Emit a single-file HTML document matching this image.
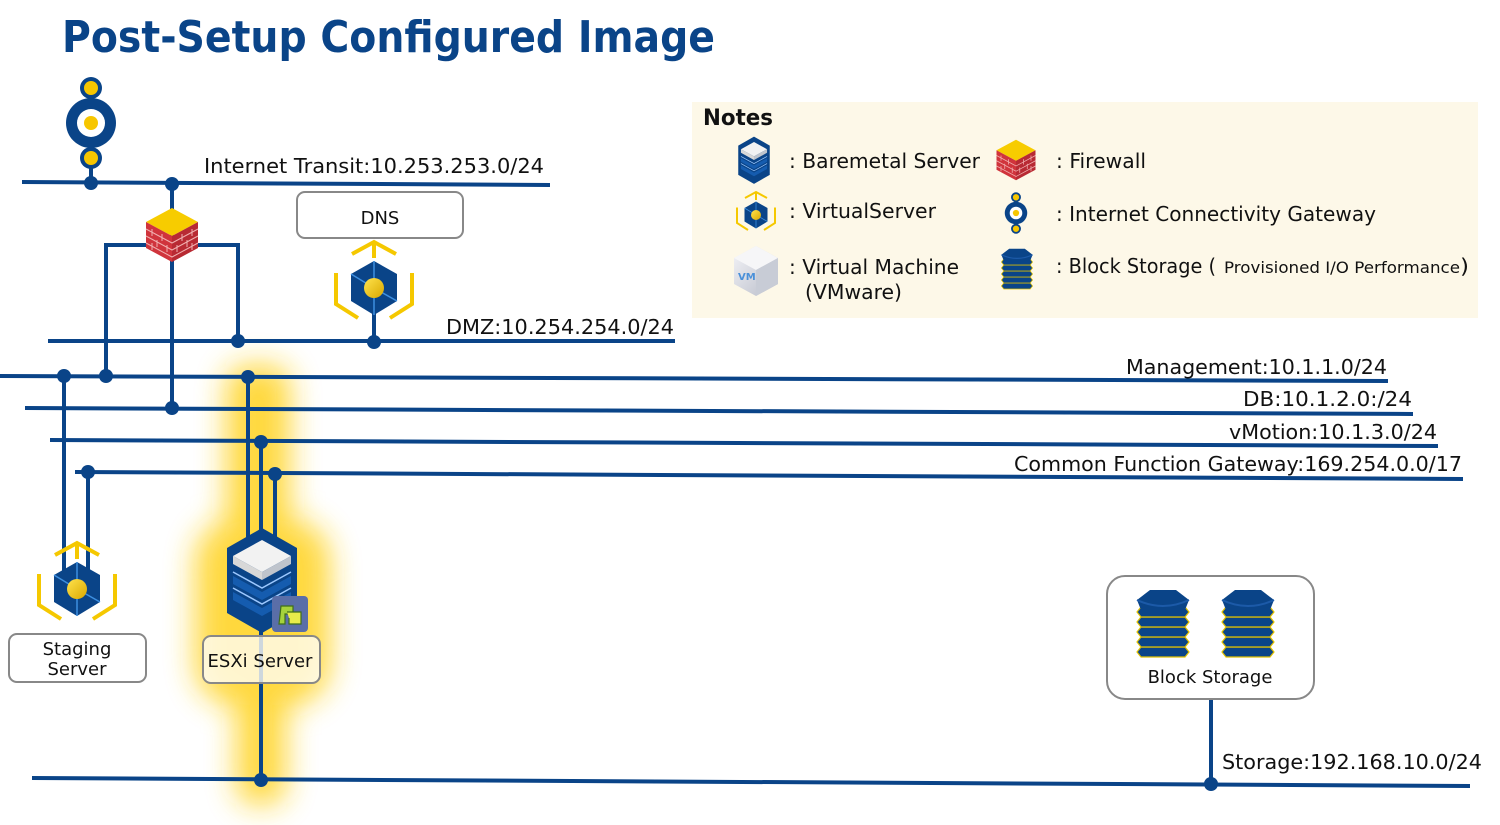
<!DOCTYPE html>
<html><head><meta charset="utf-8"><style>
html,body{margin:0;padding:0;background:#fff;}
svg{display:block;}
text{font-family:"DejaVu Sans","Liberation Sans",sans-serif;fill:#111;}
</style></head><body>
<svg width="1500" height="825" viewBox="0 0 1500 825" xmlns="http://www.w3.org/2000/svg">
<defs>
  <filter id="blur" x="-100%" y="-20%" width="300%" height="140%"><feGaussianBlur stdDeviation="15"/></filter>
  <linearGradient id="ball" x1="0" y1="0" x2="1" y2="1"><stop offset="0" stop-color="#ffe34d"/><stop offset="1" stop-color="#d9a800"/></linearGradient>
  <linearGradient id="vmg" x1="0" y1="0" x2="1" y2="1"><stop offset="0" stop-color="#f4f4f8"/><stop offset="1" stop-color="#b8bcc8"/></linearGradient>
  <symbol id="vs" overflow="visible">
    <g fill="none" stroke="#f5c800" stroke-width="4">
      <path d="M0,-30 V-46 M-22,-34 L0,-46 L22,-34"/>
      <path d="M-38,-15 V16 L-16,30"/>
      <path d="M38,-15 V16 L16,30"/>
    </g>
    <polygon points="0,-27 23,-14 23,13 0,27 -23,13 -23,-14" fill="#0a4488"/>
    <path d="M0,-27 V0 M-23,-14 L0,0 L23,13 M0,0 V27" stroke="#3d8fe0" stroke-width="1.5"/>
    <circle r="10" fill="url(#ball)"/>
  </symbol>
  <symbol id="bm" overflow="visible">
    <polygon points="0,-52 35,-32 35,33 0,53 -35,33 -35,-32" fill="#0a4488"/>
    <polygon points="0,-40 29,-24 0,-8 -29,-24" fill="#f2f2f2"/>
    <polygon points="-29,-24 0,-8 0,0 -29,-16" fill="#d8d8d8"/>
    <polygon points="29,-24 0,-8 0,0 29,-16" fill="#bfc4cc"/>
    <path d="M-29,-8 L0,8 L29,-8 M-29,8 L0,24 L29,8" stroke="#9cc8ff" stroke-width="1.5" fill="none"/>
    <path d="M-29,-4 L0,12 L29,-4 L29,4 L0,20 L-29,4Z M-29,12 L0,28 L29,12 L29,20 L0,36 L-29,20Z" fill="#1a66c0" opacity="0.7"/>
  </symbol>
  <symbol id="fw" overflow="visible">
    <polygon points="0,-27 26,-13 0,1 -26,-13" fill="#f7cc00"/>
    <polygon points="-26,-13 0,1 0,27 -26,13" fill="#d0343c"/>
    <polygon points="26,-13 0,1 0,27 26,13" fill="#b82a33"/>
    <g stroke="#f1b0b0" stroke-width="1" fill="none">
      <path d="M-26,-6 L0,8 L26,-6 M-26,1 L0,15 L26,1 M-26,8 L0,22 L26,8"/>
      <path d="M-20,-6 v7 M-10,-1 v7 M-15,5 v7 M-5,10 v7 M-20,8 v7 M20,-6 v7 M10,-1 v7 M15,5 v7 M5,10 v7 M20,8 v7"/>
    </g>
  </symbol>
  <symbol id="icg" overflow="visible">
    <path d="M0,-35 V35" stroke="#0a4488" stroke-width="5"/>
    <circle cy="-35" r="11" fill="#0a4488"/><circle cy="-35" r="7" fill="#f7c600"/>
    <circle cy="35" r="11" fill="#0a4488"/><circle cy="35" r="7" fill="#f7c600"/>
    <circle r="25" fill="#0a4488"/><circle r="14" fill="#fff"/><circle r="7" fill="#f7c600"/>
  </symbol>
  <symbol id="bs" overflow="visible">
    <g stroke="#e0c000" stroke-width="1.2" fill="#0a4488">
      <polygon points="-22,25 22,25 26,30 22,35 -22,35 -26,30"/>
      <polygon points="-22,15 22,15 26,20 22,25 -22,25 -26,20"/>
      <polygon points="-22,5 22,5 26,10 22,15 -22,15 -26,10"/>
      <polygon points="-22,-5 22,-5 26,0 22,5 -22,5 -26,0"/>
      <polygon points="-22,-15 22,-15 26,-10 22,-5 -22,-5 -26,-10"/>
    </g>
    <polygon points="-13,-32 13,-32 26,-22 22,-12 -22,-12 -26,-22" fill="#0a4488"/>
    <path d="M-26,-22 Q0,-10 26,-22" fill="none" stroke="#1c5aa8" stroke-width="2"/>
  </symbol>
</defs>

<text x="62" y="52" font-family="Liberation Sans" font-weight="bold" font-size="44" textLength="653" lengthAdjust="spacingAndGlyphs" style="fill:#0a4488">Post-Setup Configured Image</text>

<rect x="692" y="102" width="786" height="216" fill="#fdf8e8"/>
<text x="703" y="125" font-size="22" font-weight="bold" font-family="Liberation Sans" textLength="70" lengthAdjust="spacingAndGlyphs">Notes</text>
<use href="#bm" transform="translate(754,160) scale(0.45)"/>
<use href="#vs" transform="translate(756,215) scale(0.5)"/>
<g transform="translate(756,270)">
  <polygon points="0,-24 22,-12 22,14 0,26 -22,14 -22,-12" fill="url(#vmg)"/>
  <polygon points="0,-24 22,-12 0,0 -22,-12" fill="#f6f6f8"/>
  <polygon points="0,0 22,-12 22,14 0,26" fill="#c8ccd6"/>
  <text x="-18" y="10" font-size="10" font-weight="bold" font-family="Liberation Sans" style="fill:#4a90d9">VM</text>
</g>
<use href="#fw" transform="translate(1016,160) scale(0.75)"/>
<use href="#icg" transform="translate(1016,213) scale(0.45)"/>
<use href="#bs" transform="translate(1017,268) scale(0.6)"/>
<g font-size="20">
<text x="789" y="168" textLength="191" lengthAdjust="spacingAndGlyphs">: Baremetal Server</text>
<text x="789" y="218" textLength="147" lengthAdjust="spacingAndGlyphs">: VirtualServer</text>
<text x="789" y="274" textLength="170" lengthAdjust="spacingAndGlyphs">: Virtual Machine</text>
<text x="805" y="299" textLength="97" lengthAdjust="spacingAndGlyphs">(VMware)</text>
<text x="1056" y="168" textLength="90" lengthAdjust="spacingAndGlyphs">: Firewall</text>
<text x="1056" y="221" textLength="320" lengthAdjust="spacingAndGlyphs">: Internet Connectivity Gateway</text>
<text x="1056" y="273" textLength="160" lengthAdjust="spacingAndGlyphs">: Block Storage (</text>
<text x="1224" y="273" font-size="16" textLength="236" lengthAdjust="spacingAndGlyphs">Provisioned I/O Performance</text>
<text x="1460" y="273" textLength="9" lengthAdjust="spacingAndGlyphs">)</text>
</g>

<g filter="url(#blur)" fill="#ffd21a" opacity="0.85">
  <rect x="226" y="365" width="64" height="170" rx="20"/>
  <rect x="195" y="520" width="135" height="185" rx="40"/>
  <rect x="236" y="690" width="50" height="115" rx="20"/>
</g>

<g stroke="#0a4488" stroke-width="4" fill="none">
  <path d="M22,182 L550,185"/>
  <path d="M48,341 L675,341"/>
  <path d="M0,376 L1388,381"/>
  <path d="M25,408 L1413,414"/>
  <path d="M50,440 L1438,446"/>
  <path d="M75,472 L1463,479"/>
  <path d="M32,778 L1470,786"/>
  <path d="M91,158 V183"/>
  <path d="M172,183 V410"/>
  <path d="M106,376 V245 H238 V341"/>
  <path d="M374,300 V341"/>
  <path d="M64,376 V575 M88,472 V575"/>
  <path d="M248,377 V545 M261,441 V545 M275,474 V545"/>
  <path d="M261,620 V780"/>
  <path d="M1211,699 V784"/>
</g>
<g fill="#0a4488">
  <circle cx="91" cy="183" r="7"/><circle cx="172" cy="184" r="7"/>
  <circle cx="238" cy="341" r="7"/><circle cx="374" cy="342" r="7"/>
  <circle cx="64" cy="376" r="7"/><circle cx="106" cy="376" r="7"/><circle cx="248" cy="377" r="7"/>
  <circle cx="172" cy="408" r="7"/><circle cx="261" cy="442" r="7"/>
  <circle cx="88" cy="472" r="7"/><circle cx="275" cy="474" r="7"/>
  <circle cx="261" cy="780" r="7"/><circle cx="1211" cy="784" r="7"/>
</g>

<use href="#icg" transform="translate(91,123)"/>
<use href="#fw" transform="translate(172,235)"/>
<use href="#vs" transform="translate(374,288)"/>
<use href="#vs" transform="translate(77,589)"/>
<use href="#bm" transform="translate(262,580)"/>
<g transform="translate(272,596)">
  <rect width="36" height="36" rx="4" fill="#5a6ea8"/>
  <path d="M9,10 h12 v8 h-8 v10 h-6 z" fill="#a6d23c" stroke="#3f6e1a" stroke-width="1.2"/>
  <path d="M15,16 h14 v12 h-12 v-6" fill="#e8ec4a" stroke="#3f6e1a" stroke-width="1.2"/>
</g>

<g fill="#fff" stroke="#888" stroke-width="2">
  <rect x="297" y="192" width="166" height="46" rx="8"/>
  <rect x="9" y="634" width="137" height="48" rx="8"/>
  <rect x="203" y="636" width="117" height="47" rx="8" fill="#fffdf2" fill-opacity="0.8"/>
  <rect x="1107" y="576" width="207" height="123" rx="18"/>
</g>
<use href="#bs" transform="translate(1163,622)"/>
<use href="#bs" transform="translate(1248,622)"/>
<g font-size="18" text-anchor="middle">
  <text x="380" y="224">DNS</text>
  <text x="77" y="655">Staging</text>
  <text x="77" y="675">Server</text>
  <text x="260" y="667">ESXi Server</text>
  <text x="1210" y="683">Block Storage</text>
</g>

<g font-size="20">
  <text x="204" y="173" textLength="340" lengthAdjust="spacingAndGlyphs">Internet Transit:10.253.253.0/24</text>
  <text x="446" y="334" textLength="228" lengthAdjust="spacingAndGlyphs">DMZ:10.254.254.0/24</text>
  <text x="1126" y="374" textLength="261" lengthAdjust="spacingAndGlyphs">Management:10.1.1.0/24</text>
  <text x="1243" y="406" textLength="169" lengthAdjust="spacingAndGlyphs">DB:10.1.2.0:/24</text>
  <text x="1229" y="439" textLength="208" lengthAdjust="spacingAndGlyphs">vMotion:10.1.3.0/24</text>
  <text x="1014" y="471" textLength="448" lengthAdjust="spacingAndGlyphs">Common Function Gateway:169.254.0.0/17</text>
  <text x="1222" y="769" textLength="260" lengthAdjust="spacingAndGlyphs">Storage:192.168.10.0/24</text>
</g>
</svg>
</body></html>
